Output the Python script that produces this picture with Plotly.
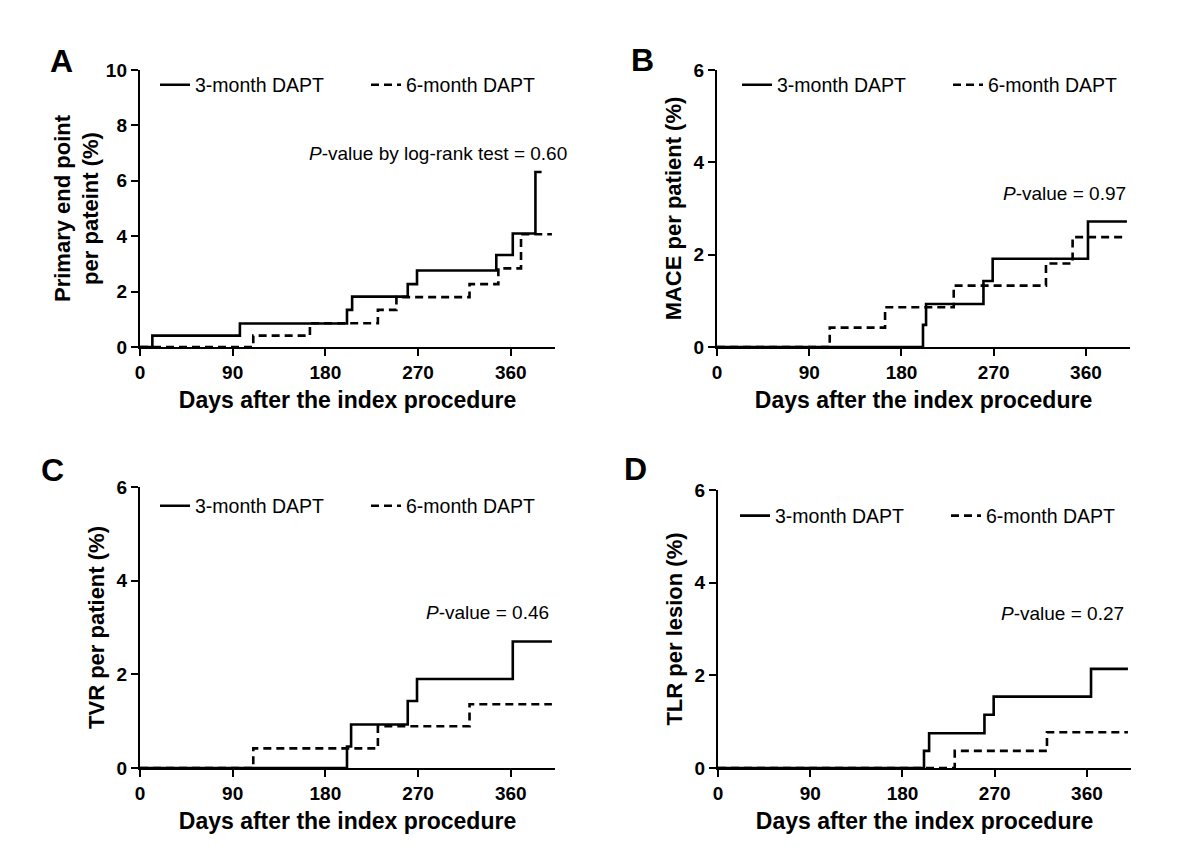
import plotly.graph_objects as go

W, H = 1188, 866
OFF = 8  # the page body margin shifts the figure; compensate
FONT = "Liberation Sans, Arial, Helvetica, sans-serif"

series_names = ["3-month DAPT", "6-month DAPT"]
x_ticks = [0, 90, 180, 270, 360]

# Panel A - Primary end point per patient (%)
a_3m_days = [0, 12, 97, 201, 206, 260, 269, 346, 362, 384, 390]
a_3m_vals = [0, 0.41, 0.85, 1.34, 1.82, 2.27, 2.76, 3.32, 4.10, 6.32, 6.32]
a_6m_days = [0, 110, 165, 231, 249, 320, 348, 370, 400]
a_6m_vals = [0, 0.41, 0.86, 1.34, 1.80, 2.27, 2.84, 4.07, 4.07]

# Panel B - MACE per patient (%)
b_3m_days = [0, 201, 204, 260, 269, 362, 400]
b_3m_vals = [0, 0.48, 0.93, 1.43, 1.91, 2.72, 2.72]
b_6m_days = [0, 110, 164, 231, 321, 347, 397]
b_6m_vals = [0, 0.42, 0.86, 1.33, 1.81, 2.38, 2.38]

# Panel C - TVR per patient (%)
c_3m_days = [0, 201, 205, 260, 269, 362, 400]
c_3m_vals = [0, 0.46, 0.93, 1.43, 1.90, 2.70, 2.70]
c_6m_days = [0, 110, 231, 320, 400]
c_6m_vals = [0, 0.42, 0.89, 1.36, 1.36]

# Panel D - TLR per lesion (%)
d_3m_days = [0, 201, 206, 260, 269, 364, 400]
d_3m_vals = [0, 0.37, 0.75, 1.15, 1.54, 2.14, 2.14]
d_6m_days = [0, 231, 321, 400]
d_6m_vals = [0, 0.37, 0.77, 0.77]

panel_letters = ["A", "B", "C", "D"]
y_titles = ["Primary end point<br>per pateint (%)", "MACE per patient (%)",
            "TVR per patient (%)", "TLR per lesion (%)"]
y_max = [10, 6, 6, 6]
p_texts = ["<i>P</i>-value by log-rank test = 0.60", "<i>P</i>-value = 0.97",
           "<i>P</i>-value = 0.46", "<i>P</i>-value = 0.27"]
x_title = "Days after the index procedure"

# pixel geometry (reference image coordinates)
boxes = [(140, 555, 70, 347), (717, 1130, 70, 347),
         (140, 555, 487, 768), (718, 1131, 490, 768)]
letter_pos = [(61, 61), (642, 60), (52, 470), (635, 469)]
legend_pos = [(155, 85), (737, 85), (155, 506), (735, 516)]
pval_pos = [(569, 154), (1128, 193), (551, 612), (1126, 613)]
ytitle_standoff = [1, 6, 6, 6]


def px(x):
    return (x - OFF) / W


def py(y):
    return 1 - (y - OFF) / H


data = [
    (a_3m_days, a_3m_vals, a_6m_days, a_6m_vals),
    (b_3m_days, b_3m_vals, b_6m_days, b_6m_vals),
    (c_3m_days, c_3m_vals, c_6m_days, c_6m_vals),
    (d_3m_days, d_3m_vals, d_6m_days, d_6m_vals),
]

fig = go.Figure()
layout = dict(width=W, height=H, margin=dict(l=0, r=0, t=0, b=0, autoexpand=False),
              paper_bgcolor="white", plot_bgcolor="white", template="none",
              font=dict(family=FONT, color="black"))
annotations = []

for i, (d3, v3, d6, v6) in enumerate(data):
    n = "" if i == 0 else str(i + 1)
    xa, ya = "x" + n, "y" + n
    lg = "legend" + n
    fig.add_trace(go.Scatter(x=d3, y=v3, mode="lines", line_shape="hv",
                             name=series_names[0], xaxis=xa, yaxis=ya, legend=lg,
                             line=dict(color="black", width=2.6),
                             cliponaxis=False))
    fig.add_trace(go.Scatter(x=d6, y=v6, mode="lines", line_shape="hv",
                             name=series_names[1], xaxis=xa, yaxis=ya, legend=lg,
                             line=dict(color="black", width=2.6, dash="8px,5px"),
                             cliponaxis=False))
    l, r, t, b = boxes[i]
    common = dict(showline=True, linecolor="black", linewidth=2.4,
                  ticks="outside", ticklen=7, tickwidth=2.2, tickcolor="black",
                  showgrid=False, zeroline=False, automargin=False,
                  tickfont=dict(family=FONT, size=19, color="black", weight="bold"))
    layout["xaxis" + n] = dict(common, domain=[px(l), px(r)], anchor=ya,
                               range=[0, 403], tickvals=x_ticks,
                               title=dict(text=x_title, standoff=10,
                                          font=dict(family=FONT, size=23, weight="bold")))
    layout["yaxis" + n] = dict(common, domain=[py(b), py(t)], anchor=xa,
                               range=[0, y_max[i]], dtick=2,
                               title=dict(text=y_titles[i], standoff=ytitle_standoff[i],
                                          font=dict(family=FONT, size=22, weight="bold")))
    lx, ly = legend_pos[i]
    layout[lg] = dict(orientation="h", x=px(lx), y=py(ly), xanchor="left",
                      yanchor="middle", bgcolor="rgba(0,0,0,0)",
                      font=dict(family=FONT, size=19.5, color="black"),
                      entrywidthmode="pixels", entrywidth=166, itemwidth=30,
                      tracegroupgap=0)
    pxp, pyp = pval_pos[i]
    annotations.append(dict(text=p_texts[i], x=px(pxp), y=py(pyp), xref="paper", yref="paper",
                            xanchor="right", yanchor="middle", showarrow=False,
                            font=dict(family=FONT, size=19, color="black")))
    lxp, lyp = letter_pos[i]
    annotations.append(dict(text="<b>" + panel_letters[i] + "</b>", x=px(lxp), y=py(lyp),
                            xref="paper", yref="paper", xanchor="center", yanchor="middle",
                            showarrow=False, font=dict(family=FONT, size=32, color="black")))

layout["annotations"] = annotations
fig.update_layout(**layout)
fig.write_html("out.html")
